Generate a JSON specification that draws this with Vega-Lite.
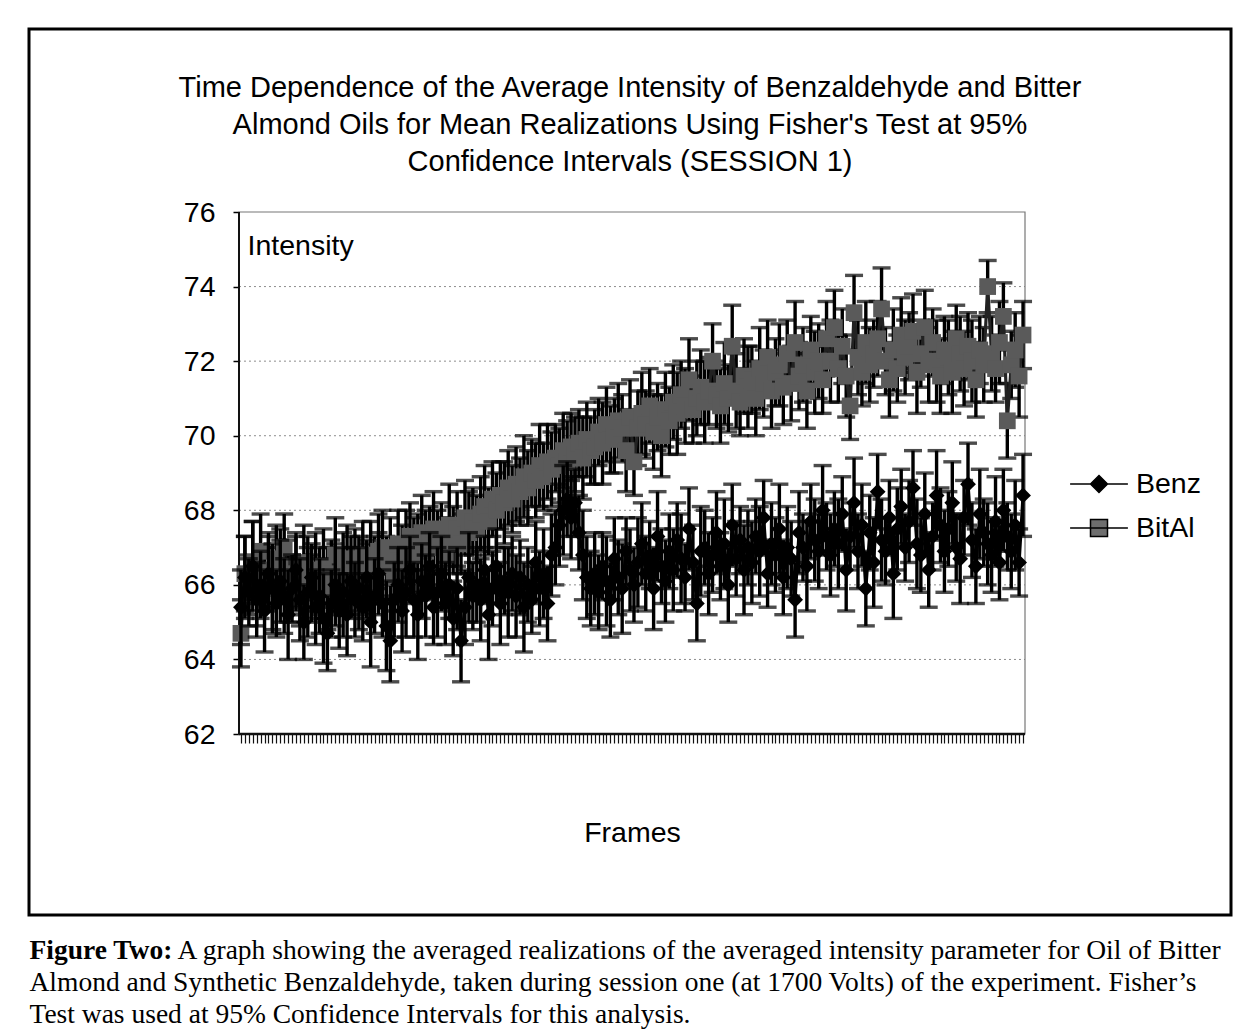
{
"$schema": "https://vega.github.io/schema/vega-lite/v6.json",
"padding": {"left": 27, "top": 27, "right": 4, "bottom": 2},
"background": "white",
"spacing": 18,
"config": {"view": {"stroke": null}, "font": "Liberation Sans"},
"datasets": {
"benz": [
{"f":1,"v":65.4,"e":1.0},{"f":2,"v":66.2,"e":1.1},{"f":3,"v":65.8,"e":0.9},{"f":4,"v":66.5,"e":1.2},{"f":5,"v":65.6,"e":1.0},{"f":6,"v":66.0,"e":0.9},{"f":7,"v":65.3,"e":1.1},{"f":8,"v":66.3,"e":1.0},{"f":9,"v":65.9,"e":1.2},{"f":10,"v":65.5,"e":0.9},
{"f":11,"v":66.1,"e":1.1},{"f":12,"v":65.7,"e":1.0},{"f":13,"v":65.2,"e":1.2},{"f":14,"v":65.9,"e":0.9},{"f":15,"v":66.4,"e":1.0},{"f":16,"v":65.6,"e":1.1},{"f":17,"v":65.0,"e":1.0},{"f":18,"v":65.8,"e":1.2},{"f":19,"v":66.2,"e":0.9},{"f":20,"v":65.4,"e":1.0},
{"f":21,"v":65.7,"e":1.0},{"f":22,"v":65.1,"e":1.2},{"f":23,"v":64.7,"e":1.0},{"f":24,"v":65.5,"e":0.9},{"f":25,"v":66.0,"e":1.1},{"f":26,"v":65.3,"e":1.0},{"f":27,"v":65.8,"e":1.2},{"f":28,"v":65.2,"e":1.1},{"f":29,"v":66.1,"e":0.9},{"f":30,"v":65.6,"e":1.0},
{"f":31,"v":65.9,"e":1.1},{"f":32,"v":65.4,"e":0.9},{"f":33,"v":66.2,"e":1.0},{"f":34,"v":65.0,"e":1.2},{"f":35,"v":65.7,"e":1.0},{"f":36,"v":66.3,"e":1.1},{"f":37,"v":65.5,"e":0.9},{"f":38,"v":64.9,"e":1.2},{"f":39,"v":64.5,"e":1.1},{"f":40,"v":65.6,"e":1.0},
{"f":41,"v":66.0,"e":1.0},{"f":42,"v":65.3,"e":1.1},{"f":43,"v":65.8,"e":1.2},{"f":44,"v":66.4,"e":0.9},{"f":45,"v":65.6,"e":1.0},{"f":46,"v":65.2,"e":1.2},{"f":47,"v":66.1,"e":1.0},{"f":48,"v":65.7,"e":1.1},{"f":49,"v":66.5,"e":0.9},{"f":50,"v":65.4,"e":1.0},
{"f":51,"v":65.8,"e":1.2},{"f":52,"v":66.3,"e":1.0},{"f":53,"v":65.5,"e":1.1},{"f":54,"v":66.0,"e":0.9},{"f":55,"v":65.1,"e":1.0},{"f":56,"v":65.9,"e":1.1},{"f":57,"v":64.5,"e":1.1},{"f":58,"v":65.4,"e":1.0},{"f":59,"v":66.2,"e":1.2},{"f":60,"v":65.7,"e":0.9},
{"f":61,"v":66.0,"e":1.0},{"f":62,"v":65.6,"e":1.1},{"f":63,"v":66.4,"e":0.9},{"f":64,"v":65.2,"e":1.2},{"f":65,"v":65.9,"e":1.0},{"f":66,"v":66.5,"e":1.0},{"f":67,"v":65.5,"e":1.1},{"f":68,"v":66.1,"e":0.9},{"f":69,"v":65.8,"e":1.2},{"f":70,"v":66.3,"e":1.0},
{"f":71,"v":65.7,"e":1.1},{"f":72,"v":66.2,"e":1.0},{"f":73,"v":65.4,"e":1.2},{"f":74,"v":66.0,"e":1.0},{"f":75,"v":65.6,"e":0.9},{"f":76,"v":66.6,"e":1.1},{"f":77,"v":65.9,"e":1.0},{"f":78,"v":66.3,"e":1.2},{"f":79,"v":65.5,"e":1.0},{"f":80,"v":66.8,"e":1.1},
{"f":81,"v":67.0,"e":1.0},{"f":82,"v":67.6,"e":1.1},{"f":83,"v":68.0,"e":1.2},{"f":84,"v":68.3,"e":1.0},{"f":85,"v":67.8,"e":1.1},{"f":86,"v":68.2,"e":0.9},{"f":87,"v":67.4,"e":1.0},{"f":88,"v":66.8,"e":1.2},{"f":89,"v":66.2,"e":1.1},{"f":90,"v":65.9,"e":1.0},
{"f":91,"v":66.3,"e":1.1},{"f":92,"v":65.8,"e":1.0},{"f":93,"v":66.5,"e":0.9},{"f":94,"v":66.1,"e":1.2},{"f":95,"v":65.6,"e":1.0},{"f":96,"v":66.7,"e":1.1},{"f":97,"v":66.2,"e":1.0},{"f":98,"v":65.9,"e":1.2},{"f":99,"v":66.9,"e":0.9},{"f":100,"v":66.4,"e":1.1},
{"f":101,"v":66.0,"e":1.0},{"f":102,"v":66.6,"e":1.2},{"f":103,"v":67.1,"e":1.1},{"f":104,"v":66.3,"e":1.0},{"f":105,"v":66.8,"e":0.9},{"f":106,"v":65.9,"e":1.1},{"f":107,"v":67.3,"e":1.2},{"f":108,"v":66.5,"e":1.0},{"f":109,"v":66.1,"e":1.1},{"f":110,"v":66.9,"e":1.0},
{"f":111,"v":66.4,"e":1.1},{"f":112,"v":67.2,"e":1.0},{"f":113,"v":66.7,"e":1.2},{"f":114,"v":66.2,"e":0.9},{"f":115,"v":67.5,"e":1.1},{"f":116,"v":66.6,"e":1.0},{"f":117,"v":65.5,"e":1.0},{"f":118,"v":66.9,"e":1.2},{"f":119,"v":67.0,"e":1.0},{"f":120,"v":66.3,"e":1.1},
{"f":121,"v":66.8,"e":1.0},{"f":122,"v":67.4,"e":1.1},{"f":123,"v":66.5,"e":0.9},{"f":124,"v":67.1,"e":1.2},{"f":125,"v":66.0,"e":1.0},{"f":126,"v":67.6,"e":1.1},{"f":127,"v":66.7,"e":1.0},{"f":128,"v":67.2,"e":0.9},{"f":129,"v":66.4,"e":1.2},{"f":130,"v":67.0,"e":1.0},
{"f":131,"v":66.6,"e":1.1},{"f":132,"v":67.3,"e":1.0},{"f":133,"v":66.9,"e":1.2},{"f":134,"v":67.8,"e":1.0},{"f":135,"v":66.3,"e":0.9},{"f":136,"v":67.1,"e":1.1},{"f":137,"v":66.8,"e":1.0},{"f":138,"v":67.5,"e":1.2},{"f":139,"v":66.2,"e":1.0},{"f":140,"v":67.0,"e":1.1},
{"f":141,"v":66.7,"e":1.0},{"f":142,"v":65.6,"e":1.0},{"f":143,"v":67.4,"e":1.1},{"f":144,"v":67.0,"e":0.9},{"f":145,"v":66.5,"e":1.2},{"f":146,"v":67.7,"e":1.0},{"f":147,"v":67.2,"e":1.1},{"f":148,"v":66.9,"e":1.0},{"f":149,"v":68.0,"e":1.2},{"f":150,"v":67.3,"e":0.9},
{"f":151,"v":66.8,"e":1.1},{"f":152,"v":67.5,"e":1.0},{"f":153,"v":67.1,"e":1.2},{"f":154,"v":67.9,"e":1.0},{"f":155,"v":66.4,"e":1.1},{"f":156,"v":67.3,"e":0.9},{"f":157,"v":68.2,"e":1.2},{"f":158,"v":66.9,"e":1.0},{"f":159,"v":67.6,"e":1.1},{"f":160,"v":65.9,"e":1.0},
{"f":161,"v":67.4,"e":1.0},{"f":162,"v":66.6,"e":1.2},{"f":163,"v":68.5,"e":1.0},{"f":164,"v":67.2,"e":1.1},{"f":165,"v":66.9,"e":0.9},{"f":166,"v":67.8,"e":1.0},{"f":167,"v":66.3,"e":1.2},{"f":168,"v":67.5,"e":1.1},{"f":169,"v":68.1,"e":1.0},{"f":170,"v":67.0,"e":0.9},
{"f":171,"v":67.7,"e":1.1},{"f":172,"v":68.6,"e":1.0},{"f":173,"v":67.1,"e":1.2},{"f":174,"v":66.8,"e":1.0},{"f":175,"v":67.9,"e":1.1},{"f":176,"v":66.4,"e":1.0},{"f":177,"v":67.3,"e":0.9},{"f":178,"v":68.4,"e":1.2},{"f":179,"v":67.6,"e":1.0},{"f":180,"v":66.9,"e":1.1},
{"f":181,"v":67.5,"e":1.0},{"f":182,"v":68.2,"e":1.1},{"f":183,"v":67.0,"e":0.9},{"f":184,"v":66.7,"e":1.2},{"f":185,"v":67.8,"e":1.0},{"f":186,"v":68.7,"e":1.1},{"f":187,"v":67.2,"e":1.0},{"f":188,"v":66.5,"e":1.0},{"f":189,"v":67.9,"e":1.2},{"f":190,"v":67.4,"e":0.9},
{"f":191,"v":67.1,"e":1.1},{"f":192,"v":66.8,"e":1.0},{"f":193,"v":67.7,"e":1.2},{"f":194,"v":66.6,"e":1.0},{"f":195,"v":68.0,"e":1.1},{"f":196,"v":67.3,"e":0.9},{"f":197,"v":66.9,"e":1.0},{"f":198,"v":67.6,"e":1.2},{"f":199,"v":66.6,"e":0.9},{"f":200,"v":68.4,"e":1.1}
],
"bital": [
{"f":1,"v":64.7,"e":0.9},{"f":2,"v":66.3,"e":1.0},{"f":3,"v":66.0,"e":0.8},{"f":4,"v":66.6,"e":1.1},{"f":5,"v":65.8,"e":0.9},{"f":6,"v":66.9,"e":1.0},{"f":7,"v":66.2,"e":0.8},{"f":8,"v":66.4,"e":1.0},{"f":9,"v":65.9,"e":1.1},{"f":10,"v":66.7,"e":0.9},
{"f":11,"v":66.5,"e":1.0},{"f":12,"v":67.0,"e":0.9},{"f":13,"v":66.1,"e":1.1},{"f":14,"v":66.0,"e":0.8},{"f":15,"v":66.3,"e":1.0},{"f":16,"v":65.8,"e":0.9},{"f":17,"v":66.6,"e":1.0},{"f":18,"v":66.2,"e":1.1},{"f":19,"v":65.9,"e":0.9},{"f":20,"v":66.4,"e":1.0},
{"f":21,"v":66.1,"e":0.9},{"f":22,"v":66.5,"e":1.0},{"f":23,"v":65.9,"e":1.1},{"f":24,"v":66.3,"e":0.9},{"f":25,"v":66.8,"e":1.0},{"f":26,"v":66.0,"e":0.8},{"f":27,"v":66.4,"e":1.0},{"f":28,"v":66.7,"e":0.9},{"f":29,"v":66.2,"e":1.1},{"f":30,"v":66.5,"e":1.0},
{"f":31,"v":66.3,"e":1.0},{"f":32,"v":66.8,"e":0.9},{"f":33,"v":66.1,"e":1.0},{"f":34,"v":66.6,"e":1.1},{"f":35,"v":66.4,"e":0.9},{"f":36,"v":66.9,"e":1.0},{"f":37,"v":67.0,"e":1.0},{"f":38,"v":66.5,"e":0.8},{"f":39,"v":66.7,"e":1.1},{"f":40,"v":66.2,"e":0.9},
{"f":41,"v":67.1,"e":0.9},{"f":42,"v":66.6,"e":1.0},{"f":43,"v":66.9,"e":1.1},{"f":44,"v":67.3,"e":0.9},{"f":45,"v":66.8,"e":1.0},{"f":46,"v":67.0,"e":0.9},{"f":47,"v":67.4,"e":1.0},{"f":48,"v":66.9,"e":1.1},{"f":49,"v":67.2,"e":0.9},{"f":50,"v":67.5,"e":1.0},
{"f":51,"v":67.0,"e":1.0},{"f":52,"v":67.3,"e":0.9},{"f":53,"v":66.8,"e":1.0},{"f":54,"v":67.6,"e":1.1},{"f":55,"v":67.2,"e":0.9},{"f":56,"v":67.5,"e":1.0},{"f":57,"v":67.1,"e":0.8},{"f":58,"v":67.8,"e":1.0},{"f":59,"v":67.4,"e":1.1},{"f":60,"v":67.7,"e":0.9},
{"f":61,"v":67.5,"e":0.9},{"f":62,"v":67.9,"e":1.0},{"f":63,"v":68.1,"e":1.1},{"f":64,"v":67.7,"e":0.9},{"f":65,"v":68.3,"e":1.0},{"f":66,"v":68.0,"e":1.0},{"f":67,"v":68.4,"e":0.9},{"f":68,"v":68.2,"e":1.1},{"f":69,"v":68.6,"e":1.0},{"f":70,"v":68.3,"e":0.9},
{"f":71,"v":68.7,"e":1.0},{"f":72,"v":68.5,"e":0.9},{"f":73,"v":68.9,"e":1.1},{"f":74,"v":68.6,"e":1.0},{"f":75,"v":69.0,"e":0.9},{"f":76,"v":68.8,"e":1.0},{"f":77,"v":69.2,"e":1.1},{"f":78,"v":68.9,"e":0.9},{"f":79,"v":69.3,"e":1.0},{"f":80,"v":69.1,"e":1.0},
{"f":81,"v":69.4,"e":0.9},{"f":82,"v":69.2,"e":1.0},{"f":83,"v":69.6,"e":1.0},{"f":84,"v":69.3,"e":1.1},{"f":85,"v":69.7,"e":0.9},{"f":86,"v":69.5,"e":1.0},{"f":87,"v":69.8,"e":0.9},{"f":88,"v":69.4,"e":1.1},{"f":89,"v":69.9,"e":1.0},{"f":90,"v":69.6,"e":0.9},
{"f":91,"v":69.7,"e":1.0},{"f":92,"v":70.1,"e":0.9},{"f":93,"v":69.8,"e":1.1},{"f":94,"v":70.3,"e":1.0},{"f":95,"v":69.9,"e":0.9},{"f":96,"v":70.0,"e":1.0},{"f":97,"v":70.4,"e":1.0},{"f":98,"v":70.2,"e":0.9},{"f":99,"v":69.6,"e":1.1},{"f":100,"v":70.5,"e":1.0},
{"f":101,"v":69.3,"e":0.9},{"f":102,"v":70.2,"e":1.0},{"f":103,"v":70.6,"e":1.1},{"f":104,"v":70.3,"e":0.9},{"f":105,"v":70.8,"e":1.0},{"f":106,"v":70.1,"e":1.0},{"f":107,"v":70.5,"e":0.9},{"f":108,"v":70.0,"e":1.1},{"f":109,"v":70.7,"e":1.0},{"f":110,"v":70.4,"e":0.9},
{"f":111,"v":70.9,"e":1.0},{"f":112,"v":70.6,"e":1.1},{"f":113,"v":71.1,"e":0.9},{"f":114,"v":70.8,"e":1.0},{"f":115,"v":71.5,"e":1.1},{"f":116,"v":70.7,"e":0.9},{"f":117,"v":71.0,"e":1.0},{"f":118,"v":71.3,"e":1.0},{"f":119,"v":70.9,"e":1.1},{"f":120,"v":71.2,"e":0.9},
{"f":121,"v":72.0,"e":1.0},{"f":122,"v":71.1,"e":0.9},{"f":123,"v":70.8,"e":1.0},{"f":124,"v":71.4,"e":1.1},{"f":125,"v":71.0,"e":0.9},{"f":126,"v":72.4,"e":1.1},{"f":127,"v":71.2,"e":1.0},{"f":128,"v":70.9,"e":0.9},{"f":129,"v":71.6,"e":1.0},{"f":130,"v":71.3,"e":1.1},
{"f":131,"v":71.5,"e":0.9},{"f":132,"v":71.0,"e":1.0},{"f":133,"v":71.8,"e":1.1},{"f":134,"v":71.4,"e":0.9},{"f":135,"v":72.1,"e":1.0},{"f":136,"v":71.2,"e":1.0},{"f":137,"v":71.7,"e":0.9},{"f":138,"v":71.9,"e":1.1},{"f":139,"v":71.3,"e":1.0},{"f":140,"v":72.2,"e":0.9},
{"f":141,"v":71.4,"e":1.0},{"f":142,"v":72.5,"e":1.1},{"f":143,"v":71.6,"e":0.9},{"f":144,"v":71.9,"e":1.0},{"f":145,"v":71.2,"e":1.0},{"f":146,"v":72.3,"e":0.9},{"f":147,"v":71.7,"e":1.1},{"f":148,"v":72.0,"e":1.0},{"f":149,"v":71.5,"e":0.9},{"f":150,"v":72.6,"e":1.0},
{"f":151,"v":72.0,"e":1.1},{"f":152,"v":72.9,"e":1.0},{"f":153,"v":71.8,"e":0.9},{"f":154,"v":72.4,"e":1.0},{"f":155,"v":71.6,"e":1.1},{"f":156,"v":70.8,"e":0.9},{"f":157,"v":73.3,"e":1.0},{"f":158,"v":72.1,"e":1.0},{"f":159,"v":71.7,"e":0.9},{"f":160,"v":72.5,"e":1.1},
{"f":161,"v":71.9,"e":1.0},{"f":162,"v":72.2,"e":0.9},{"f":163,"v":72.6,"e":1.0},{"f":164,"v":73.4,"e":1.1},{"f":165,"v":72.0,"e":0.9},{"f":166,"v":71.5,"e":1.0},{"f":167,"v":72.3,"e":1.1},{"f":168,"v":71.8,"e":0.9},{"f":169,"v":72.7,"e":1.0},{"f":170,"v":72.1,"e":1.0},
{"f":171,"v":72.4,"e":0.9},{"f":172,"v":72.8,"e":1.0},{"f":173,"v":71.7,"e":1.1},{"f":174,"v":72.2,"e":0.9},{"f":175,"v":72.9,"e":1.0},{"f":176,"v":71.9,"e":1.0},{"f":177,"v":72.5,"e":0.9},{"f":178,"v":72.0,"e":1.1},{"f":179,"v":71.6,"e":1.0},{"f":180,"v":72.3,"e":0.9},
{"f":181,"v":72.1,"e":1.0},{"f":182,"v":71.7,"e":1.1},{"f":183,"v":72.6,"e":0.9},{"f":184,"v":72.2,"e":1.0},{"f":185,"v":71.8,"e":1.0},{"f":186,"v":72.4,"e":0.9},{"f":187,"v":72.0,"e":1.1},{"f":188,"v":71.5,"e":1.0},{"f":189,"v":72.3,"e":0.9},{"f":190,"v":71.9,"e":1.0},
{"f":191,"v":74.0,"e":0.7},{"f":192,"v":72.2,"e":1.0},{"f":193,"v":71.8,"e":0.9},{"f":194,"v":72.5,"e":1.1},{"f":195,"v":73.2,"e":0.9},{"f":196,"v":70.4,"e":1.0},{"f":197,"v":71.9,"e":0.9},{"f":198,"v":72.3,"e":1.0},{"f":199,"v":71.6,"e":1.1},{"f":200,"v":72.7,"e":0.9}
],
"series": [{"s":"Benz"},{"s":"BitAl"}],
"caption": [
{"n":1,"k":"head","t":"Figure Two:"},
{"n":1,"k":"first","t":"A graph showing the averaged realizations of the averaged intensity parameter for Oil of Bitter"},
{"n":2,"k":"rest","t":"Almond and Synthetic Benzaldehyde, taken during session one (at 1700 Volts) of the experiment.  Fisher’s"},
{"n":3,"k":"rest","t":"Test was used at 95% Confidence Intervals for this analysis."}
]
},
"vconcat": [
{
"width": 1202,
"height": 886,
"view": {"stroke": "black", "strokeWidth": 3},
"title": {
"text": ["Time Dependence of the Average Intensity of Benzaldehyde and Bitter", "Almond Oils for Mean Realizations Using Fisher's Test at 95%", "Confidence Intervals (SESSION 1)"],
"font": "Liberation Sans", "fontSize": 29, "fontWeight": "normal", "color": "black",
"lineHeight": 37, "anchor": "middle", "baseline": "top", "offset": -148
},
"layer": [
{"layer": [
{"data": {"values": [{"g":64},{"g":66},{"g":68},{"g":70},{"g":72},{"g":74}]},
"mark": {"type": "rule", "color": "#8c8c8c", "strokeWidth": 1, "strokeDash": [2, 3]},
"encoding": {"x": {"datum": 0.5, "type": "quantitative", "title": "Frames"}, "x2": {"datum": 200.5}, "y": {"field": "g", "type": "quantitative", "title": "Intensity"}}},
{"data": {"values": [{"part":"plot area"}]},
"mark": {"type": "rect", "fill": "transparent", "stroke": "#777777", "strokeWidth": 1.2},
"encoding": {"x": {"datum": 0.5, "type": "quantitative", "title": "Frames"}, "x2": {"datum": 200.5}, "y": {"datum": 62, "type": "quantitative", "title": "Intensity"}, "y2": {"datum": 76}}},
{"data": {"values": [{"part":"value axis"}]},
"mark": {"type": "rule", "color": "#111111", "strokeWidth": 2},
"encoding": {"x": {"datum": 0.5, "type": "quantitative", "title": "Frames"}, "y": {"datum": 62, "type": "quantitative", "title": "Intensity"}, "y2": {"datum": 76}}},
{"data": {"values": [{"part":"category axis"}]},
"mark": {"type": "rule", "color": "#111111", "strokeWidth": 2.5},
"encoding": {"x": {"datum": 0.5, "type": "quantitative", "title": "Frames"}, "x2": {"datum": 200.5}, "y": {"datum": 62, "type": "quantitative", "title": "Intensity"}}}
]},
{"encoding": {
"x": {"field": "f", "type": "quantitative", "title": "Frames",
"scale": {"domain": [-52.935, 252.917], "nice": false, "zero": false},
"axis": {"title": "Frames", "tickCount": 400, "values": [1,2,3,4,5,6,7,8,9,10,11,12,13,14,15,16,17,18,19,20,21,22,23,24,25,26,27,28,29,30,31,32,33,34,35,36,37,38,39,40,41,42,43,44,45,46,47,48,49,50,51,52,53,54,55,56,57,58,59,60,61,62,63,64,65,66,67,68,69,70,71,72,73,74,75,76,77,78,79,80,81,82,83,84,85,86,87,88,89,90,91,92,93,94,95,96,97,98,99,100,101,102,103,104,105,106,107,108,109,110,111,112,113,114,115,116,117,118,119,120,121,122,123,124,125,126,127,128,129,130,131,132,133,134,135,136,137,138,139,140,141,142,143,144,145,146,147,148,149,150,151,152,153,154,155,156,157,158,159,160,161,162,163,164,165,166,167,168,169,170,171,172,173,174,175,176,177,178,179,180,181,182,183,184,185,186,187,188,189,190,191,192,193,194,195,196,197,198,199,200],
"offset": -181, "domain": false, "grid": false, "labels": false, "ticks": true, "tickSize": 9, "tickColor": "#111111", "tickWidth": 1.2,
"titleX": 603, "titleY": 107, "titleBaseline": "alphabetic", "titleFont": "Liberation Sans", "titleFontSize": 28.5, "titleFontWeight": "normal", "titleColor": "black"}},
"y": {"field": "v", "type": "quantitative", "title": "Intensity",
"scale": {"domain": [57.146, 80.908], "nice": false, "zero": false},
"axis": {"title": "Intensity", "format": "d", "values": [62,64,66,68,70,72,74,76], "offset": -210, "domain": false, "grid": false, "ticks": true, "tickSize": 6, "tickColor": "black", "tickWidth": 1.5,
"labelFont": "Liberation Sans", "labelFontSize": 28.5, "labelColor": "black", "labelPadding": 18,
"titleAngle": 0, "titleX": 8, "titleY": 225, "titleAlign": "left", "titleBaseline": "alphabetic", "titleFont": "Liberation Sans", "titleFontSize": 28.5, "titleFontWeight": "normal", "titleColor": "black"}}
},
"layer": [
{"data": {"name": "bital"}, "mark": {"type": "errorbar", "color": "black", "thickness": 3.4, "ticks": {"size": 18, "thickness": 3.4, "color": "black"}, "rule": {"strokeWidth": 3.4, "color": "black"}},
"encoding": {"yError": {"field": "e"}}},
{"data": {"name": "bital"}, "mark": {"type": "line", "color": "#222222", "strokeWidth": 3.2}},
{"data": {"name": "bital"}, "mark": {"type": "point", "shape": "square", "filled": true, "color": "#5a5a5a", "size": 280, "opacity": 1}},
{"data": {"name": "benz"}, "mark": {"type": "errorbar", "color": "black", "thickness": 3.4, "ticks": {"size": 18, "thickness": 3.4, "color": "black"}, "rule": {"strokeWidth": 3.4, "color": "black"}},
"encoding": {"yError": {"field": "e"}}},
{"data": {"name": "benz"}, "mark": {"type": "line", "color": "black", "strokeWidth": 3.2}},
{"data": {"name": "benz"}, "mark": {"type": "point", "shape": "diamond", "filled": true, "color": "black", "size": 250, "opacity": 1}}
]},
{"data": {"name": "series"}, "mark": {"type": "point", "filled": true, "opacity": 0},
"encoding": {
"x": {"datum": 100, "type": "quantitative", "title": "Frames"},
"y": {"datum": 70, "type": "quantitative", "title": "Intensity"},
"shape": {"field": "s", "type": "nominal",
"scale": {"domain": ["Benz", "BitAl"], "range": ["M-1.7,0H1.7M0,-0.5L0.5,0L0,0.5L-0.5,0Z", "M-1.7,0H1.7M-0.5,-0.5H0.5V0.5H-0.5Z"]},
"legend": {"title": null, "orient": "none", "legendX": 1052, "legendY": 437, "labelFont": "Liberation Sans", "labelFontSize": 28.5, "labelColor": "black", "symbolSize": 1156, "labelOffset": 19, "rowPadding": 11, "padding": 0, "symbolOpacity": 1, "symbolStrokeWidth": 1.5, "symbolStrokeColor": "black", "labelLimit": 0,
"encode": {"symbols": {"update": {"stroke": {"value": "black"}, "strokeWidth": {"value": 1.5}, "opacity": {"value": 1}}}}}},
"color": {"field": "s", "type": "nominal",
"scale": {"domain": ["Benz", "BitAl"], "range": ["#000000", "#6e6e6e"]},
"legend": {"title": null, "orient": "none", "legendX": 1052, "legendY": 437, "labelFont": "Liberation Sans", "labelFontSize": 28.5, "labelColor": "black", "symbolSize": 1156, "labelOffset": 19, "rowPadding": 11, "padding": 0, "symbolOpacity": 1, "symbolStrokeWidth": 1.5, "symbolStrokeColor": "black", "labelLimit": 0,
"encode": {"symbols": {"update": {"stroke": {"value": "black"}, "strokeWidth": {"value": 1.5}, "opacity": {"value": 1}}}}}}
}}
]
},
{
"width": 1,
"height": 96,
"view": {"stroke": null},
"data": {"name": "caption"},
"encoding": {"y": {"field": "n", "type": "ordinal", "axis": null, "scale": {"type": "point", "padding": 0.5}}, "text": {"field": "t", "type": "nominal"}},
"layer": [
{"transform": [{"filter": "datum.k == 'head'"}], "mark": {"type": "text", "align": "left", "baseline": "middle", "font": "Liberation Serif", "fontSize": 27.5, "fontWeight": "bold", "color": "black"}},
{"transform": [{"filter": "datum.k == 'first'"}], "mark": {"type": "text", "align": "left", "baseline": "middle", "font": "Liberation Serif", "fontSize": 27.5, "color": "black", "dx": 148}},
{"transform": [{"filter": "datum.k == 'rest'"}], "mark": {"type": "text", "align": "left", "baseline": "middle", "font": "Liberation Serif", "fontSize": 27.5, "color": "black"}}
]
}
]
}
